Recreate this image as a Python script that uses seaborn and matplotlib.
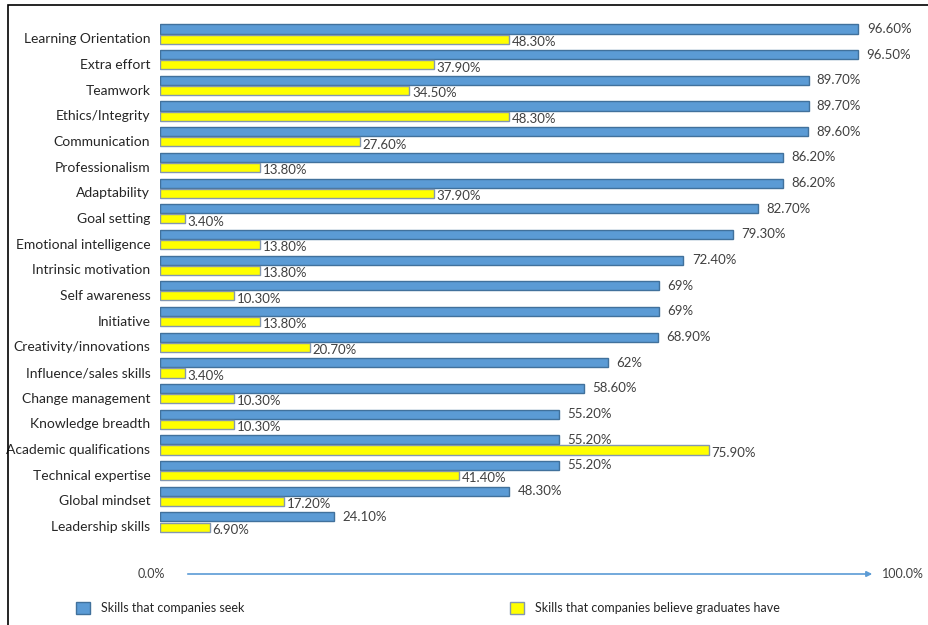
import pandas as pd
import matplotlib.pyplot as plt
import matplotlib.transforms as mtransforms
import seaborn as sns
from matplotlib.patches import Rectangle, Patch

# Chart data
skills = [
    "Learning Orientation", "Extra effort", "Teamwork", "Ethics/Integrity",
    "Communication", "Professionalism", "Adaptability", "Goal setting",
    "Emotional intelligence", "Intrinsic motivation", "Self awareness",
    "Initiative", "Creativity/innovations", "Influence/sales skills",
    "Change management", "Knowledge breadth", "Academic qualifications",
    "Technical expertise", "Global mindset", "Leadership skills",
]
seek = [96.6, 96.5, 89.7, 89.7, 89.6, 86.2, 86.2, 82.7, 79.3, 72.4,
        69, 69, 68.9, 62, 58.6, 55.2, 55.2, 55.2, 48.3, 24.1]
have = [48.3, 37.9, 34.5, 48.3, 27.6, 13.8, 37.9, 3.4, 13.8, 13.8,
        10.3, 13.8, 20.7, 3.4, 10.3, 10.3, 75.9, 41.4, 17.2, 6.9]
series = ["Skills that companies seek", "Skills that companies believe graduates have"]

df = pd.concat([
    pd.DataFrame({"Skill": skills, "Value": seek, "Series": series[0]}),
    pd.DataFrame({"Skill": skills, "Value": have, "Series": series[1]}),
])

sns.set_style("white")
plt.rcParams["font.family"] = ["Lato", "DejaVu Sans"]

blue, blue_edge = "#5B9BD5", "#41719C"
yellow, yellow_edge = "#FFFF00", "#8497B0"

fig = plt.figure(figsize=(9.29, 6.25), dpi=100)
ax = fig.add_axes([160 / 929, 1 - 545 / 625, 723 / 929, 530 / 625])

sns.barplot(data=df, y="Skill", x="Value", hue="Series", orient="h",
            palette=[blue, yellow], order=skills, hue_order=series,
            width=0.8, gap=0.12, saturation=1, legend=False, ax=ax)

for bar_container, edge in zip(ax.containers, [blue_edge, yellow_edge]):
    for bar in bar_container:
        bar.set_edgecolor(edge)
        bar.set_linewidth(1)

def fmt(v):
    return f"{int(v)}%" if v == int(v) else f"{v:.2f}%"

for bar_container, vals, dx, dy in zip(ax.containers, [seek, have], [6, 2], [0, -2]):
    for bar, v in zip(bar_container, vals):
        ax.annotate(fmt(v), (bar.get_width(), bar.get_y() + bar.get_height() / 2),
                    xytext=(dx, dy), textcoords="offset points",
                    ha="left", va="center", fontsize=9.5, color="#404040")

ax.set_xlim(0, 100)
ax.set_ylim(19.9, -0.745)
ax.set_xlabel("")
ax.set_ylabel("")
ax.set_xticks([])
ax.tick_params(axis="y", length=0, pad=7, labelsize=10, labelcolor="#262626")
# category labels sit a little below the row centre in the original
shift = mtransforms.ScaledTranslation(0, -3 / 72, fig.dpi_scale_trans)
for lbl in ax.get_yticklabels():
    lbl.set_transform(lbl.get_transform() + shift)
for s in ax.spines.values():
    s.set_visible(False)

# frame around the picture
fig.patches.append(Rectangle((8 / 929, -0.1), 1.2, 1.1 - 5 / 625,
                             transform=fig.transFigure, fill=False,
                             edgecolor="black", linewidth=1.2))

# arrow axis at the bottom
fig.text(151 / 929, 1 - 574 / 625, "0.0%", ha="center", va="center",
         fontsize=9, color="#404040")
fig.text(882 / 929, 1 - 574 / 625, "100.0%", ha="left", va="center",
         fontsize=9, color="#404040")
ax.annotate("", xy=(875 / 929, 1 - 574 / 625), xytext=(185 / 929, 1 - 574 / 625),
            xycoords="figure fraction", textcoords="figure fraction",
            arrowprops=dict(arrowstyle="-|>", color=blue, lw=1.2,
                            mutation_scale=8))

# legend entries
for label, face, edge, xpos in [(series[0], blue, blue_edge, 76 / 929),
                                (series[1], yellow, yellow_edge, 510 / 929)]:
    fig.legend(handles=[Patch(facecolor=face, edgecolor=edge, label=label)],
               loc="center left", bbox_to_anchor=(xpos, 1 - 608 / 625),
               frameon=False, fontsize=9, handlelength=1.1, handleheight=1.1,
               handletextpad=0.9, borderaxespad=0, borderpad=0,
               labelcolor="#262626")

fig.savefig("out.png", dpi=100)
